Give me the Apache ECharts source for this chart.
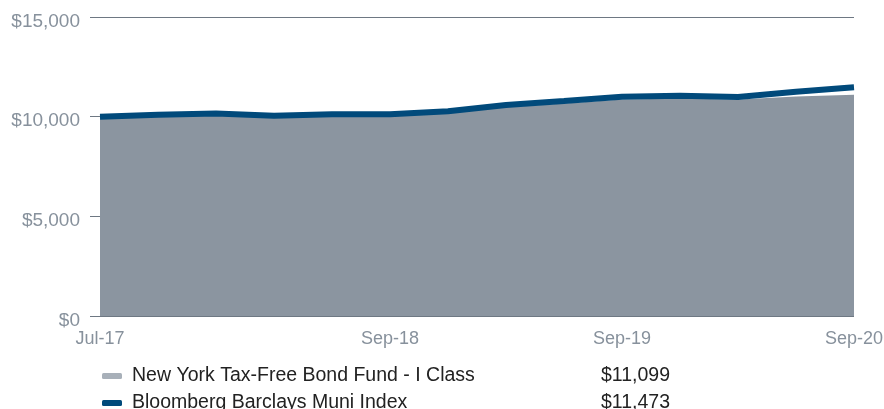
<!DOCTYPE html>
<html>
<head>
<meta charset="utf-8">
<script src="https://cdn.jsdelivr.net/npm/echarts@6/dist/echarts.min.js"></script>
<style>
	html, body { margin: 0; padding: 0; background: #fff; }
	#chart { width: 884px; height: 409px; }
</style>
</head>
<body>
<div id="chart"></div>
<script>
	var months = ['Jul-17', 'Sep-17', 'Dec-17', 'Mar-18', 'Jun-18', 'Sep-18', 'Dec-18',
		'Mar-19', 'Jun-19', 'Sep-19', 'Dec-19', 'Mar-20', 'Jun-20', 'Sep-20'];
	var labelIdx = [0, 5, 9, 13];
	var fundValues = [10000, 10040, 10090, 9980, 10050, 10040, 10170, 10470, 10660, 10860, 10910, 10860, 11010, 11099];
	var indexValues = [10000, 10099, 10159, 10043, 10118, 10124, 10268, 10585, 10786, 11002, 11053, 10987, 11254, 11473];
	var seriesNames = ['New York Tax-Free Bond Fund - I Class', 'Bloomberg Barclays Muni Index'];
	var endValues = ['$11,099', '$11,473'];
	var yTicks = [0, 5000, 10000, 15000];

	var gray = '#8b95a0';
	var blue = '#014a7b';
	var legendColors = ['#a8b0b9', blue];
	var labelColor = '#87919c';
	var font = 'Liberation Sans, Arial, sans-serif';

	function makeLegend(i, top) {
		return {
			orient: 'horizontal',
			left: 97,
			top: top,
			itemWidth: 20,
			itemHeight: 6,
			icon: 'roundRect',
			data: [{ name: seriesNames[i], itemStyle: { color: legendColors[i] } }],
			formatter: function (name) {
				return '{n|' + name + '}{v|' + endValues[i] + '}';
			},
			textStyle: {
				fontFamily: font,
				fontSize: 19.5,
				color: '#222',
				rich: {
					n: { width: 469, padding: [0, 0, 0, 5], fontSize: 19.5, color: '#222', fontFamily: font },
					v: { fontSize: 19.5, color: '#222', fontFamily: font }
				}
			}
		};
	}

	var myChart = echarts.init(document.getElementById('chart'));
	var option = {
		animation: false,
		grid: {
			left: 100,
			right: 30,
			top: 17,
			bottom: 93,
			outerBoundsMode: 'none'
		},
		legend: [makeLegend(0, 361), makeLegend(1, 388)],
		xAxis: {
			type: 'category',
			boundaryGap: false,
			data: months,
			axisLine: { show: false },
			axisTick: { show: false },
			axisLabel: {
				interval: function (i) { return labelIdx.indexOf(i) >= 0; },
				showMinLabel: true,
				showMaxLabel: true,
				margin: 14,
				color: labelColor,
				fontSize: 18,
				fontFamily: font
			}
		},
		yAxis: {
			type: 'value',
			min: yTicks[0],
			max: yTicks[yTicks.length - 1],
			interval: yTicks[1] - yTicks[0],
			axisLine: { show: false },
			axisTick: {
				show: true,
				length: 10,
				lineStyle: { color: '#6e7883', width: 1 }
			},
			splitLine: {
				show: true,
				lineStyle: { color: '#6e7883', width: 1 }
			},
			axisLabel: {
				margin: 20,
				verticalAlign: 'top',
				lineHeight: 9,
				color: labelColor,
				fontSize: 19,
				fontFamily: font,
				formatter: function (v) { return '$' + v.toLocaleString('en-US'); }
			}
		},
		series: [
			{
				name: seriesNames[0],
				type: 'line',
				data: fundValues,
				symbol: 'none',
				lineStyle: { width: 0, color: gray },
				itemStyle: { color: gray },
				areaStyle: { color: gray, opacity: 1 }
			},
			{
				name: seriesNames[1],
				type: 'line',
				data: indexValues,
				symbol: 'none',
				lineStyle: { width: 6, color: blue },
				itemStyle: { color: blue }
			}
		]
	};
	myChart.setOption(option);
</script>
</body>
</html>
